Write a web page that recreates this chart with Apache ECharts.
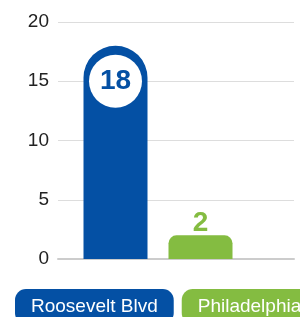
<!DOCTYPE html>
<html>
<head>
<meta charset="utf-8">
<script src="https://cdn.jsdelivr.net/npm/echarts@6/dist/echarts.min.js"></script>
<style>
  html, body { margin: 0; padding: 0; background: #fff; }
  #chart { width: 300px; height: 317px; }
</style>
</head>
<body>
<div id="chart"></div>
<script>
var categories = ['Roosevelt Blvd', 'Philadelphia'];
var values = [18, 2];
var colors = ['#0450a4', '#84bc41'];
var yTicks = [0, 5, 10, 15, 20];

var chart = echarts.init(document.getElementById('chart'));

var font = 'Liberation Sans, Arial, sans-serif';

// one series per category so the legend gets one pill each
var series = categories.map(function (name, i) {
  var data = values.map(function (v, j) { return j === i ? v : '-'; });
  var isBig = i === 0;
  return {
    name: name,
    type: 'bar',
    stack: 'all',
    xAxisIndex: 1,
    yAxisIndex: 1,
    barWidth: 64,
    data: data,
    itemStyle: {
      color: colors[i],
      borderRadius: isBig ? [32, 32, 0, 0] : [8, 8, 0, 0]
    },
    label: isBig ? {
      show: true,
      position: 'insideTop',
      distance: 9,
      backgroundColor: '#fff',
      width: 53,
      height: 53,
      lineHeight: 53,
      borderRadius: 27,
      align: 'center',
      color: colors[i],
      fontFamily: font,
      fontWeight: 'bold',
      fontSize: 28
    } : {
      show: true,
      position: 'top',
      distance: -2,
      color: colors[i],
      fontFamily: font,
      fontWeight: 'bold',
      fontSize: 28
    }
  };
});

var option = {
  animation: false,
  legend: {
    left: 5,
    top: 284,
    width: 400,
    itemGap: 3,
    itemWidth: 0,
    itemHeight: 0,
    selectedMode: false,
    data: categories.map(function (name, i) {
      return {
        name: name,
        icon: 'rect',
        textStyle: {
          color: '#fff',
          fontFamily: font,
          fontSize: 19,
          lineHeight: 22,
          backgroundColor: colors[i],
          borderRadius: 11,
          padding: [7, 16, 6, 16]
        }
      };
    })
  },
  grid: [
    { left: 58, right: 6, top: 22, bottom: 58 },
    { left: 73, width: 170, top: 22, bottom: 58 }
  ],
  xAxis: [
    {
      gridIndex: 0,
      type: 'category',
      data: [''],
      axisTick: { show: false },
      axisLabel: { show: false },
      axisLine: { lineStyle: { color: '#cccccc', width: 2 } }
    },
    {
      gridIndex: 1,
      type: 'category',
      data: categories,
      show: false
    }
  ],
  yAxis: [
    {
      gridIndex: 0,
      type: 'value',
      min: yTicks[0],
      max: yTicks[yTicks.length - 1],
      interval: 5,
      axisLine: { show: false },
      axisTick: { show: false },
      axisLabel: { color: '#222', fontSize: 19, fontFamily: font, margin: 9 },
      splitLine: { lineStyle: { color: '#dddddd', width: 1 } }
    },
    {
      gridIndex: 1,
      type: 'value',
      min: yTicks[0],
      max: yTicks[yTicks.length - 1],
      show: false,
      splitLine: { show: false }
    }
  ],
  series: series
};

chart.setOption(option);
</script>
</body>
</html>
